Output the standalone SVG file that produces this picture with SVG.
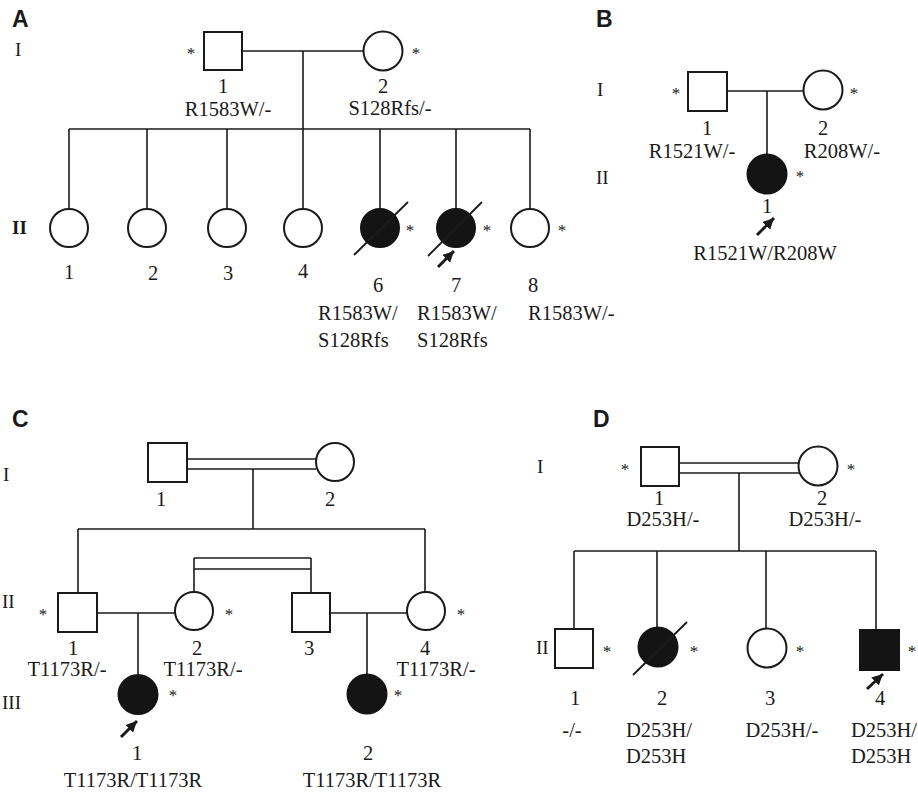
<svg xmlns="http://www.w3.org/2000/svg" width="918" height="795" viewBox="0 0 918 795">
<style>
.bg{fill:#fff}
.sym{fill:#fff;stroke:#1a1a1a;stroke-width:2}
.aff{fill:#141414;stroke:#141414;stroke-width:2}
.ln{stroke:#1a1a1a;stroke-width:1.6;fill:none}
.sl{stroke:#1a1a1a;stroke-width:1.8}
.arr{stroke:#1a1a1a;stroke-width:3}
.t{font-family:"Liberation Serif","Times New Roman",serif;font-size:20.5px;fill:#1a1a1a}
.c{text-anchor:middle}
.g{font-family:"Liberation Serif","Times New Roman",serif;font-size:19px;fill:#1a1a1a}
.st{font-family:"Liberation Serif","Times New Roman",serif;font-size:17px;fill:#1a1a1a;text-anchor:middle;opacity:0.999}
.p{font-family:"Liberation Sans",Arial,sans-serif;font-size:23px;font-weight:bold;fill:#1a1a1a}
</style>
<defs>
<marker id="ah" markerUnits="userSpaceOnUse" markerWidth="11" markerHeight="11" refX="10" refY="5" orient="auto" viewBox="0 0 10 10">
<path d="M0,0 L10,5 L0,10 z" fill="#1a1a1a"/>
</marker>
</defs>
<rect class="bg" x="0" y="0" width="918" height="795"/>

<!-- Panel labels and generations -->
<g id="labels">
<text class="p" x="12" y="27">A</text>
<text class="p" x="596" y="27">B</text>
<text class="p" x="12" y="427">C</text>
<text class="p" x="593" y="427">D</text>
<text class="g" x="15" y="56">I</text>
<text class="g" x="12" y="234" font-weight="bold">II</text>
<text class="g" x="597" y="96">I</text>
<text class="g" x="596" y="184">II</text>
<text class="g" x="3" y="481">I</text>
<text class="g" x="2" y="608">II</text>
<text class="g" x="2" y="709">III</text>
<text class="g" x="537" y="473">I</text>
<text class="g" x="536" y="654">II</text>
</g>

<!-- Connectors -->
<g id="connectors">
<!-- A -->
<line class="ln" x1="242" y1="51" x2="363" y2="51"/>
<line class="ln" x1="303" y1="51" x2="303" y2="129"/>
<line class="ln" x1="69" y1="129" x2="530" y2="129"/>
<line class="ln" x1="69" y1="129" x2="69" y2="209"/>
<line class="ln" x1="147" y1="129" x2="147" y2="209"/>
<line class="ln" x1="227" y1="129" x2="227" y2="209"/>
<line class="ln" x1="303" y1="129" x2="303" y2="209"/>
<line class="ln" x1="380" y1="129" x2="380" y2="209"/>
<line class="ln" x1="456" y1="129" x2="456" y2="209"/>
<line class="ln" x1="530" y1="129" x2="530" y2="209"/>
<!-- B -->
<line class="ln" x1="727" y1="91" x2="803" y2="91"/>
<line class="ln" x1="767" y1="91" x2="767" y2="155"/>
<!-- C -->
<line class="ln" x1="187" y1="459" x2="316" y2="459"/>
<line class="ln" x1="187" y1="469" x2="316" y2="469"/>
<line class="ln" x1="253" y1="469" x2="253" y2="529"/>
<line class="ln" x1="78" y1="529" x2="425" y2="529"/>
<line class="ln" x1="78" y1="529" x2="78" y2="593"/>
<line class="ln" x1="425" y1="529" x2="425" y2="592"/>
<line class="ln" x1="194" y1="558" x2="311" y2="558"/>
<line class="ln" x1="194" y1="569" x2="311" y2="569"/>
<line class="ln" x1="194" y1="558" x2="194" y2="592"/>
<line class="ln" x1="311" y1="558" x2="311" y2="593"/>
<line class="ln" x1="97" y1="613" x2="175" y2="613"/>
<line class="ln" x1="330" y1="613" x2="407" y2="613"/>
<line class="ln" x1="138" y1="613" x2="138" y2="675"/>
<line class="ln" x1="367" y1="613" x2="367" y2="675"/>
<!-- D -->
<line class="ln" x1="679" y1="463" x2="799" y2="463"/>
<line class="ln" x1="679" y1="473" x2="799" y2="473"/>
<line class="ln" x1="739" y1="473" x2="739" y2="551"/>
<line class="ln" x1="574" y1="551" x2="876" y2="551"/>
<line class="ln" x1="574" y1="551" x2="574" y2="629"/>
<line class="ln" x1="657" y1="551" x2="657" y2="627"/>
<line class="ln" x1="766" y1="551" x2="766" y2="628"/>
<line class="ln" x1="876" y1="551" x2="876" y2="630"/>
<!-- proband arrows -->
<line class="arr" x1="438" y1="267" x2="454" y2="251" marker-end="url(#ah)"/>
<line class="arr" x1="757" y1="235" x2="774" y2="218" marker-end="url(#ah)"/>
<line class="arr" x1="121" y1="737" x2="137" y2="721" marker-end="url(#ah)"/>
<line class="arr" x1="867" y1="689" x2="883" y2="674" marker-end="url(#ah)"/>
</g>

<!-- Panel A nodes -->
<g id="A-I-1">
<rect class="sym" x="204" y="32" width="38" height="38"/>
<text class="st" x="191" y="59">*</text>
<text class="t c" x="223" y="93">1</text>
<text class="t c" x="228" y="116">R1583W/-</text>
</g>
<g id="A-I-2">
<circle class="sym" cx="383" cy="51" r="19.5"/>
<text class="st" x="416" y="59">*</text>
<text class="t c" x="383" y="93">2</text>
<text class="t c" x="390" y="115">S128Rfs/-</text>
</g>
<g id="A-II-1">
<circle class="sym" cx="69" cy="228" r="19"/>
<text class="t c" x="69" y="279">1</text>
</g>
<g id="A-II-2">
<circle class="sym" cx="147" cy="228" r="19"/>
<text class="t c" x="153" y="280">2</text>
</g>
<g id="A-II-3">
<circle class="sym" cx="227" cy="228" r="19"/>
<text class="t c" x="228" y="280">3</text>
</g>
<g id="A-II-4">
<circle class="sym" cx="303" cy="228" r="19"/>
<text class="t c" x="303" y="278">4</text>
</g>
<g id="A-II-6">
<circle class="aff" cx="380" cy="228" r="19"/>
<line class="sl" x1="354" y1="255" x2="408" y2="202"/>
<text class="st" x="410" y="236">*</text>
<text class="t c" x="378" y="292">6</text>
<text class="t" x="318" y="320">R1583W/</text>
<text class="t" x="318" y="347">S128Rfs</text>
</g>
<g id="A-II-7">
<circle class="aff" cx="456" cy="228" r="19"/>
<line class="sl" x1="428" y1="256" x2="482" y2="202"/>
<text class="st" x="487" y="236">*</text>
<text class="t c" x="456" y="292">7</text>
<text class="t" x="417" y="320">R1583W/</text>
<text class="t" x="417" y="347">S128Rfs</text>
</g>
<g id="A-II-8">
<circle class="sym" cx="530" cy="228" r="19"/>
<text class="st" x="562" y="236">*</text>
<text class="t c" x="533" y="292">8</text>
<text class="t" x="528" y="320">R1583W/-</text>
</g>

<!-- Panel B nodes -->
<g id="B-I-1">
<rect class="sym" x="688" y="72" width="39" height="39"/>
<text class="st" x="676" y="99">*</text>
<text class="t c" x="707" y="135">1</text>
<text class="t c" x="692" y="158">R1521W/-</text>
</g>
<g id="B-I-2">
<circle class="sym" cx="823" cy="90" r="19.5"/>
<text class="st" x="854" y="99">*</text>
<text class="t c" x="823" y="135">2</text>
<text class="t c" x="842" y="158">R208W/-</text>
</g>
<g id="B-II-1">
<circle class="aff" cx="767" cy="174" r="19.5"/>
<text class="st" x="800" y="182">*</text>
<text class="t c" x="767" y="213">1</text>
<text class="t c" x="765" y="260">R1521W/R208W</text>
</g>

<!-- Panel C nodes -->
<g id="C-I-1">
<rect class="sym" x="148" y="443" width="39" height="39"/>
<text class="t c" x="161" y="506">1</text>
</g>
<g id="C-I-2">
<circle class="sym" cx="335" cy="462" r="19"/>
<text class="t c" x="330" y="506">2</text>
</g>
<g id="C-II-1">
<rect class="sym" x="58" y="593" width="39" height="39"/>
<text class="st" x="43" y="620">*</text>
<text class="t c" x="73" y="655">1</text>
<text class="t c" x="67" y="676">T1173R/-</text>
</g>
<g id="C-II-2">
<circle class="sym" cx="194" cy="611" r="19"/>
<text class="st" x="229" y="620">*</text>
<text class="t c" x="197" y="655">2</text>
<text class="t c" x="203" y="676">T1173R/-</text>
</g>
<g id="C-II-3">
<rect class="sym" x="292" y="593" width="38" height="39"/>
<text class="t c" x="309" y="655">3</text>
</g>
<g id="C-II-4">
<circle class="sym" cx="426" cy="611" r="19"/>
<text class="st" x="461" y="620">*</text>
<text class="t c" x="425" y="655">4</text>
<text class="t c" x="436" y="676">T1173R/-</text>
</g>
<g id="C-III-1">
<circle class="aff" cx="138" cy="694.5" r="19.5"/>
<text class="st" x="173" y="701">*</text>
<text class="t c" x="137" y="760">1</text>
<text class="t c" x="133" y="787">T1173R/T1173R</text>
</g>
<g id="C-III-2">
<circle class="aff" cx="367" cy="694" r="19.5"/>
<text class="st" x="398" y="701">*</text>
<text class="t c" x="368" y="760">2</text>
<text class="t c" x="372" y="787">T1173R/T1173R</text>
</g>

<!-- Panel D nodes -->
<g id="D-I-1">
<rect class="sym" x="641" y="447" width="38" height="39"/>
<text class="st" x="625" y="475">*</text>
<text class="t c" x="659" y="505">1</text>
<text class="t c" x="663" y="526">D253H/-</text>
</g>
<g id="D-I-2">
<circle class="sym" cx="818" cy="466" r="19.5"/>
<text class="st" x="851" y="475">*</text>
<text class="t c" x="822" y="505">2</text>
<text class="t c" x="825" y="526">D253H/-</text>
</g>
<g id="D-II-1">
<rect class="sym" x="555" y="629" width="38" height="39"/>
<text class="st" x="607" y="657">*</text>
<text class="t c" x="575" y="705">1</text>
<text class="t c" x="572" y="737">-/-</text>
</g>
<g id="D-II-2">
<circle class="aff" cx="658" cy="647" r="19.5"/>
<line class="sl" x1="633" y1="675" x2="687" y2="622"/>
<text class="st" x="694" y="657">*</text>
<text class="t c" x="662" y="705">2</text>
<text class="t" x="626" y="737">D253H/</text>
<text class="t" x="626" y="763">D253H</text>
</g>
<g id="D-II-3">
<circle class="sym" cx="767" cy="648" r="19.5"/>
<text class="st" x="800" y="657">*</text>
<text class="t c" x="770" y="705">3</text>
<text class="t c" x="782" y="737">D253H/-</text>
</g>
<g id="D-II-4">
<rect class="aff" x="860" y="630" width="39" height="40"/>
<text class="st" x="912" y="657">*</text>
<text class="t c" x="880" y="705">4</text>
<text class="t" x="851" y="737">D253H/</text>
<text class="t" x="851" y="763">D253H</text>
</g>
</svg>
